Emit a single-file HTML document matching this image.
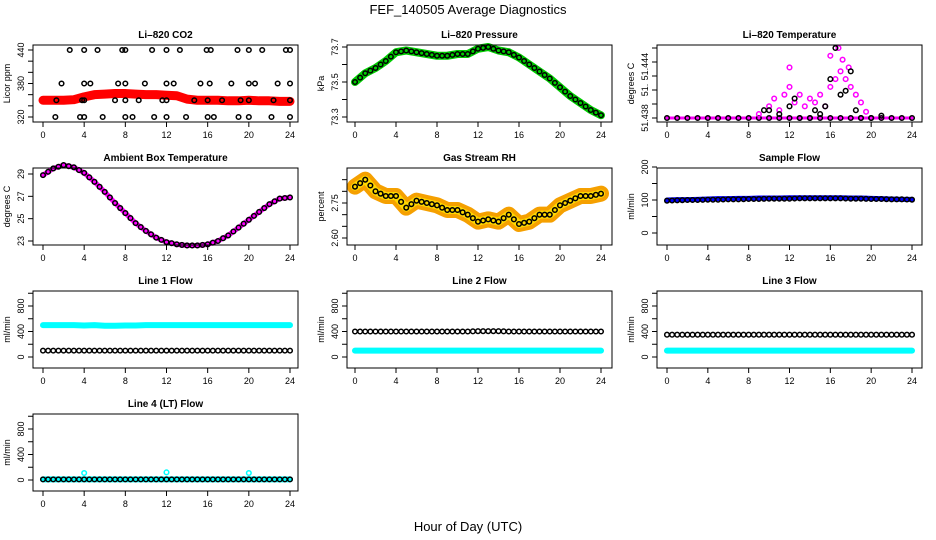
<!DOCTYPE html>
<html><head><meta charset="utf-8">
<style>
html,body{margin:0;padding:0;background:#fff}
svg{display:block;font-family:"Liberation Sans",sans-serif}
</style></head>
<body>
<svg id="c" width="936" height="540" xmlns="http://www.w3.org/2000/svg">
<text x="468" y="14" text-anchor="middle" font-size="13">FEF_140505  Average Diagnostics</text>
<text x="468" y="531" text-anchor="middle" font-size="13">Hour of Day (UTC)</text>
</svg>
<script>
const hours=[0,1,2,3,4,5,6,7,8,9,10,11,12,13,14,15,16,17,18,19,20,21,22,23,24];
const xTicks=[0,4,8,12,16,20,24];
// CO2
const co2Red=[350,350,350,351,356,360,361,362,362,361,360,360,359,358,352,350,350,350,349,349,350,349,349,348,348];
const co2BlackHours=[1.2,1.3,1.8,2.6,3.6,3.8,4,4,4,4,4.6,5.3,5.8,7,7.3,7.7,8,8,8,8,8.7,9.3,9.9,10.6,10.8,11.6,12,12,12,12,12.7,13.3,13.9,14.7,15.3,15.9,16,16,16.2,16.3,16.6,17.4,18.3,18.9,19,19.2,20,20,20,20,20.6,21.3,22.2,22.4,22.8,23.6,24,24,24,24];
const co2BlackVals=[320,350,380,440,320,350,440,380,350,320,380,440,320,350,380,440,440,380,350,320,320,350,380,440,320,350,440,380,350,320,380,440,320,350,380,440,350,320,380,440,320,350,380,440,320,350,440,380,350,320,380,440,320,350,380,440,440,380,350,320];
// Pressure
const pres=[73.50,73.55,73.58,73.62,73.67,73.68,73.67,73.66,73.65,73.65,73.66,73.66,73.69,73.70,73.68,73.67,73.64,73.60,73.56,73.52,73.47,73.42,73.38,73.34,73.31];
// Li-820 temperature (offset above 51.438 in thousandths)
const tempHours=[9,10,10.5,11,11.5,12,12,12.5,13,13.5,14,14.5,15,15.5,16,16,16.5,16.8,17,17.2,17.5,17.8,18,18.5,19,19.5];
const tempMagenta=[0.5,1.5,2.5,1,3,4,6.5,2,3,1.5,2.5,2,3,1.5,4,8,5,9,6,7.5,5,6.5,4,3,2,0.8];
const tempBlackHours=[9.5,10,11,12,12.5,13,14,14.5,15,15.5,16,16.5,17,17.5,18,18.5,19,20,21];
const tempBlack=[1,1,0.5,1.5,2.5,0,0,1,0.5,1.5,5,9,3,3.5,6,1,0,0,0.3];
// Ambient box temperature
const ambT=[28.9,29.5,29.8,29.6,29.1,28.3,27.4,26.4,25.5,24.6,23.9,23.3,22.9,22.7,22.6,22.6,22.7,23.0,23.5,24.2,24.9,25.6,26.3,26.8,26.9];
// Gas stream RH
const rh=[2.82,2.85,2.80,2.78,2.78,2.73,2.76,2.75,2.74,2.72,2.72,2.70,2.67,2.68,2.67,2.70,2.66,2.67,2.70,2.70,2.74,2.76,2.78,2.78,2.79];
// Sample flow
const sampBlue=[100,101,101,102,103,104,104,105,105,106,106,106,107,107,107,107,107,107,106,106,105,104,103,102,102];
const sampBlack=[98,99,100,100,101,101,102,102,103,103,104,104,104,105,105,105,105,105,104,104,103,103,102,102,101];
// Line flows
const l1Cyan=[500,500,500,500,495,500,490,490,495,495,500,500,500,500,500,500,500,500,500,500,500,500,500,500,500];
const l1Black=[100,100,100,100,100,100,100,100,100,100,100,100,100,100,100,100,100,100,100,100,100,100,100,100,100];
const l2Black=[400,400,400,400,400,400,400,400,400,400,400,400,405,405,405,400,400,400,400,400,400,400,400,400,400];
const l2Cyan=[100,100,100,100,100,100,100,100,100,100,100,100,100,100,100,100,100,100,100,100,100,100,100,100,100];
const l3Black=[350,350,350,350,350,350,350,350,350,350,350,350,350,350,350,350,350,350,350,350,350,350,350,350,350];
const l3Cyan=[100,100,100,100,100,100,100,100,100,100,100,100,100,100,100,100,100,100,100,100,100,100,100,100,100];
const l4Black=[10,10,10,10,10,10,10,10,10,10,10,10,10,10,10,10,10,10,10,10,10,10,10,10,10];
const l4Spikes=[4,12,20];
const l4SpikeVals=[110,120,110];

const NS="http://www.w3.org/2000/svg";
const svg=document.getElementById('c');
function el(t,a,p){const e=document.createElementNS(NS,t);for(const k in a)e.setAttribute(k,a[k]);(p||svg).appendChild(e);return e;}
const cols=[{l:33,r:298,x0:43,x1:290},{l:347,r:612,x0:355,x1:601},{l:657,r:922,x0:667,x1:912}];
const rows=[{t:45,b:122},{t:168,b:245},{t:291,b:368},{t:414,b:491}];
function panel(name,title,ci,ri,ylab,v0,p0,v1,p1,yt,ylabels){
  const c=cols[ci],r=rows[ri];
  const g=el('g',{});
  
  
  const X=h=>c.x0+(c.x1-c.x0)*h/24;
  const Y=v=>p0+(p1-p0)*(v-v0)/(v1-v0);
  const data=el('g',{},g);
  const tt=el('text',{x:(c.l+c.r)/2,y:r.t-7,'text-anchor':'middle','font-size':10,'font-weight':'bold'},g);tt.textContent=title;
  
  const box=el('rect',{x:c.l,y:r.t,width:c.r-c.l,height:r.b-r.t,fill:'none',stroke:'#000','stroke-width':1},g);
  
  const xa=el('g',{},g);
  xTicks.forEach(h=>{el('line',{x1:X(h),x2:X(h),y1:r.b,y2:r.b+5,stroke:'#000'},xa);
    const t=el('text',{x:X(h),y:r.b+16,'text-anchor':'middle','font-size':9},xa);t.textContent=h;});
  const ya=el('g',{},g);
  yt.forEach(v=>el('line',{x1:c.l-5,x2:c.l,y1:Y(v),y2:Y(v),stroke:'#000'},ya));
  ylabels.forEach(v=>{const t=el('text',{x:0,y:0,'text-anchor':'middle','font-size':9,transform:`translate(${c.l-9},${Y(v[0])}) rotate(-90)`},ya);t.textContent=v[1];});
  const yl=el('text',{x:0,y:0,'text-anchor':'middle','font-size':9,transform:`translate(${c.l-23},${(r.t+r.b)/2}) rotate(-90)`},g);yl.textContent=ylab;
  
  return {X,Y,g:data};
}
function band(p,xs,vs,color,w,name){
  const pl=el('polyline',{points:xs.map((h,i)=>p.X(h)+','+p.Y(vs[i])).join(' '),fill:'none',stroke:color,'stroke-width':w,'stroke-linejoin':'round','stroke-linecap':'round'},p.g);
  
}
function pts(p,xs,vs,color,name){
  xs.forEach((h,i)=>{const cc=el('circle',{cx:p.X(h),cy:p.Y(vs[i]),r:2.3,fill:'none',stroke:color,'stroke-width':1.5},p.g);
    });
}
const half=hours.slice(0,24).map(h=>h+0.5);
function mid(a){return a.slice(0,24).map((v,i)=>(v+a[i+1])/2);}

let p;
p=panel('co2-panel','Li\u2013820 CO2',0,0,'Licor ppm',320,117,440,50,[320,340,360,380,400,420,440],[[320,'320'],[380,'380'],[440,'440']]);
band(p,hours,co2Red,'#f00',9,'co2-red-band');
pts(p,co2BlackHours,co2BlackVals,'#000','co2-point');

p=panel('pressure-panel','Li\u2013820 Pressure',1,0,'kPa',73.3,117,73.7,47,[73.3,73.4,73.5,73.6,73.7],[[73.3,'73.3'],[73.5,'73.5'],[73.7,'73.7']]);
band(p,hours,pres,'#0c0',8,'pressure-green-band');
pts(p,hours.concat(half),pres.concat(mid(pres)),'#000','pressure-point');

p=panel('li820-temp-panel','Li\u2013820 Temperature',2,0,'degrees C',0,118,9,48,[0,1.8,3.6,5.4,7.2,9],[[0,'51.438'],[3.6,'51.'],[6.6,'51.444']]);
band(p,[0,9,19,24],[0,0,0,0],'#f0f',3,'temp-baseline');
pts(p,hours,hours.map(()=>0),'#000','temp-base-point');
pts(p,tempHours,tempMagenta,'#f0f','temp-magenta-point');
pts(p,tempBlackHours,tempBlack,'#000','temp-black-point');

p=panel('ambient-temp-panel','Ambient Box Temperature',0,1,'degrees C',23,241,29,174,[23,25,27,29],[[23,'23'],[25,'25'],[27,'27'],[29,'29']]);
band(p,hours,ambT,'#f0f',5,'ambient-magenta-line');
pts(p,hours.concat(half),ambT.concat(mid(ambT)),'#000','ambient-point');

p=panel('rh-panel','Gas Stream RH',1,1,'percent',2.60,238,2.75,203,[2.60,2.65,2.70,2.75,2.80,2.85],[[2.60,'2.60'],[2.75,'2.75']]);
band(p,hours,rh,'#f5a000',16,'rh-orange-band');
band(p,hours,rh,'#ffd800',8,'rh-yellow-band');
pts(p,hours.concat(half),rh.concat(mid(rh)),'#000','rh-point');

p=panel('sample-flow-panel','Sample Flow',2,1,'ml/min',0,233,200,167,[0,50,100,150,200],[[0,'0'],[100,'100'],[200,'200']]);
band(p,hours,sampBlue,'#00f',5,'sample-blue-band');
pts(p,hours.concat(half),sampBlack.concat(mid(sampBlack)),'#000','sample-point');

const fT=[0,200,400,600,800,1000],fL=[[0,'0'],[400,'400'],[800,'800']];
function flowPanel(name,title,ci,ri,back,backColor,front,frontColor,bName,fName){
  const r=rows[ri];
  const q=panel(name,title,ci,ri,'ml/min',0,r.b-11,800,r.b-62,fT,fL);
  band(q,hours,back,backColor,6,bName);
  pts(q,hours.concat(half),front.concat(mid(front)),frontColor,fName);
  return q;
}
flowPanel('line1-panel','Line 1 Flow',0,2,l1Cyan,'#0ff',l1Black,'#000','line1-cyan-band','line1-point');
p=flowPanel('line2-panel','Line 2 Flow',1,2,l2Cyan,'#0ff',l2Black,'#000','line2-cyan-band','line2-point');
flowPanel('line3-panel','Line 3 Flow',2,2,l3Cyan,'#0ff',l3Black,'#000','line3-cyan-band','line3-point');
p=flowPanel('line4-panel','Line 4 (LT) Flow',0,3,l4Black,'#0ff',l4Black,'#000','line4-cyan-band','line4-point');
pts(p,l4Spikes,l4SpikeVals,'#0ff','line4-spike');
</script>
</body></html>
